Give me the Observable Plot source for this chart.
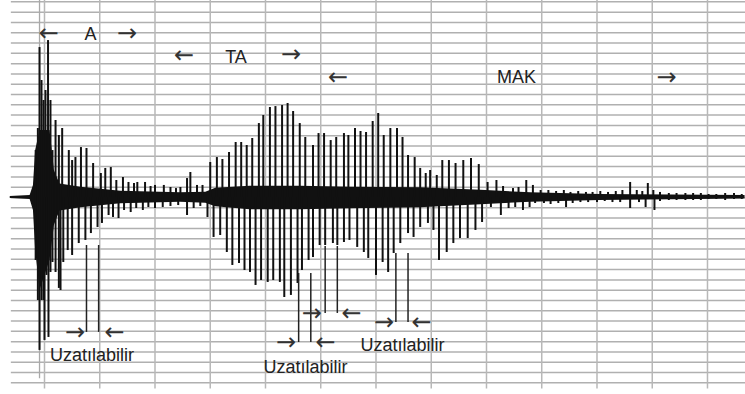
<!DOCTYPE html>
<html><head><meta charset="utf-8">
<script src="https://cdn.jsdelivr.net/npm/d3@7"></script>
<script src="https://cdn.jsdelivr.net/npm/@observablehq/plot@0.6"></script>
<style>body{margin:0;background:#fff} #chart svg{display:block;background:#fff}</style>
</head><body><div id="chart"></div>
<script>
// time in ms (grid every 50 ms), amplitude in grid cells
const gridT = [0,50,100,150,200,250,300,350,400,450,500,550,600];
const gridV = [-18,-17,-16,-15,-14,-13,-12,-11,-10,-9,-8,-7,-6,-5,-4,-3,-2,-1,0,1,2,3,4,5,6,7,8,9,10,11,12,13,14,15,16,17,18,19];

// upper peaks of the waveform
const upT = [-8,-6,-4.5,-2.7,-0.9,0.9,3.2,5.4,7.2,
 10,13,16,22,25,28,33,38,44,51,55,60,65,71,76,81,84,91,96,100,108,114,119,123,129,132,138,143,
 150,156,161,167,173,178,183,188,194,198,204,209,215,220,225,231,236,243,248,253,259,264,271,275,281,286,291,297,302,307,313,319,324,329,335,340,345,349,355,360,366,372,379,386,393,401,409,415,424,429,436,442,
 449,456,463,470,476,483,490,496,503,510,517,523,530,536,541,546,551,557,565,572,580,587,594,601,608,616,624,631];
const upV = [4.56,6.7,14.56,11.36,9.42,10.39,15.24,9.42,4.56,
 7.48,6.02,6.7,4.56,3.59,3.88,4.85,4.76,3.3,2.33,2.82,2.91,1.65,1.94,1.46,1.36,1.46,1.46,1.07,1.17,1.17,0.97,0.87,0.97,1.84,2.43,1.17,1.17,
 3.4,3.88,3.69,4.37,5.34,5.34,5.05,5.73,7.18,7.96,8.74,8.83,8.93,9.13,8.35,7.18,5.83,5.05,6.21,6.21,5.53,5.83,6.21,6.02,6.7,6.41,6.31,7.38,8.16,6.02,6.7,6.7,5.83,4.08,3.88,2.82,2.33,2.62,2.14,3.59,3.59,3.3,3.59,3.79,3.2,1.46,1.65,1.07,0.87,0.97,1.65,1.17,
 0.68,0.68,0.58,0.68,0.49,0.58,0.49,0.49,0.58,0.49,0.58,0.68,1.46,0.68,0.58,1.36,0.68,0.49,0.39,0.39,0.39,0.39,0.39,0.29,0.29,0.39,0.39,0.29];

// lower peaks of the waveform
const dnT = [-8,-6,-4.5,-2.7,-0.9,0,1.8,3.6,5.4,7.2,
 10,13,14.5,17,21,25,31,37,42,48,52,58,62,67,72,78,83,89,94,100,107,114,121,129,135,141,
 147.5,153,159,165,170,176,181,186,191,196,202,207,213,217,223,229,233,239,243,249,254,261,265,271,276,283,289,293,300,306,311,316,322,329,334,340,347,352,357,364,370,376,383,390,396,404,413,420,426,433,439,
 444,452,458,465,472,478,485,492,500,507,514,521,530,538,544,552,557,565,572,580,587,594,601,608,616,624,631];
const dnV = [-6.12,-10,-14.85,-10,-10,-13.88,-7.57,-13.59,-7.28,-6.31,
 -7.28,-8.83,-9.03,-6.31,-5.15,-5.63,-4.47,-4.17,-3.5,-2.91,-2.52,-1.75,-1.94,-2.04,-1.26,-1.46,-1.07,-1.26,-0.97,-1.07,-0.97,-0.87,-0.78,-1.75,-1.07,-0.87,
 -1.94,-3.88,-3.69,-5.34,-6.6,-6.41,-7.09,-7.28,-8.54,-8.06,-8.25,-8.06,-8.25,-9.71,-9.51,-8.35,-7.09,-6.12,-5.83,-4.66,-4.66,-4.47,-4.66,-4.37,-4.17,-4.85,-5.34,-5.92,-7.57,-6.31,-7.28,-5.44,-4.47,-3.5,-3.88,-2.91,-2.52,-3.2,-6.12,-5.34,-4.47,-3.98,-3.98,-3.2,-2.43,-0.97,-1.75,-1.07,-0.97,-1.26,-0.97,
 -0.58,-0.58,-0.68,-0.58,-0.97,-0.58,-0.49,-0.49,-0.49,-0.39,-0.49,-0.49,-1.07,-0.49,-0.97,-1.26,-0.39,-0.29,-0.29,-0.29,-0.29,-0.29,-0.19,-0.19,-0.29,-0.19,-0.19];

// dense core of the waveform around the zero line
const coreT  = [-31,-13,-10,-8,-4,5,9,14,33,69,123,146,155,186,232,277,340,395,440,503,634];
const coreHi = [0.1,0.19,1.17,4.56,6.5,6.5,2.6,1.3,1.0,0.6,0.45,0.5,0.9,1.1,1.1,1.0,0.95,0.7,0.45,0.3,0.2];
const coreLo = [-0.1,-0.19,-1.26,-5.15,-9,-6.1,-2.7,-1.3,-1.0,-0.6,-0.45,-0.55,-0.9,-1.2,-1.2,-1.1,-1.0,-0.7,-0.45,-0.3,-0.15];

// "Uzatılabilir" bracket lines
const pairT   = [38,49,230,241,254,265,318,329];
const pairTop = [-4.66,-4.66,-7.38,-7.38,-4.76,-4.76,-5.44,-5.44];
const pairBot = [-13.1,-13.1,-14.08,-14.08,-11.26,-11.26,-12.14,-12.14];

// arrow glyphs
const arrowText = ["←","→","←","→","←","→", "→","←","→","←","→","←","→","←"];
const arrowT = [4,74.7,126.2,223.1,265.6,562.9, 27.6,63.4,218.6,254.3,242,277.8,307.2,341.2];
const arrowV = [15.9,15.9,13.8,13.9,11.65,11.65, -13.1,-13.1,-14.08,-14.08,-11.26,-11.26,-12.1,-12.1];

// texts
const labelText = ["A","TA","MAK","Uzatılabilir","Uzatılabilir","Uzatılabilir"];
const labelT = [41.6,173.3,427.2,43,236.2,324];
const labelV = [15.9,13.6,11.65,-15.34,-16.5,-14.35];

const up = upT.map((t,i)=>({t, v: upV[i]}));
const dn = dnT.map((t,i)=>({t, v: dnV[i]}));
const core = coreT.map((t,i)=>({t, hi: coreHi[i], lo: coreLo[i]}));
const pairs = pairT.map((t,i)=>({t, top: pairTop[i], bot: pairBot[i]}));
const arrows = arrowText.map((s,i)=>({s, t: arrowT[i], v: arrowV[i]}));
const labels = labelText.map((s,i)=>({s, t: labelT[i], v: labelV[i]}));

const font = "'Liberation Sans', Arial, sans-serif";
const chart = Plot.plot({
  width: 745, height: 394,
  marginTop: 0, marginBottom: 0, marginLeft: 0, marginRight: 0,
  x: {domain: [-39.82, 634.4], axis: null},
  y: {domain: [-19.13, 19.13], axis: null},
  style: {background: "#fff"},
  marks: [
    Plot.ruleY(gridV, {y: d => d, x1: -30, x2: 634.4, stroke: "#b0b0b0", strokeWidth: 1.5}),
    Plot.ruleX(gridT, {x: d => d, y1: -18.6, y2: 19.13, stroke: "#b8b8b8", strokeWidth: 1.5}),
    Plot.ruleX([-4.5], {x: d => d, y1: -17.6, y2: 19.13, stroke: "#a8a8a8", strokeWidth: 1.3}),
    Plot.areaY(core, {x: "t", y1: "lo", y2: "hi", fill: "#111", curve: "linear"}),
    Plot.ruleX(up, {x: "t", y1: 0, y2: "v", stroke: "#111", strokeWidth: 2}),
    Plot.ruleX(dn, {x: "t", y1: 0, y2: "v", stroke: "#111", strokeWidth: 2}),
    Plot.ruleX(pairs, {x: "t", y1: "bot", y2: "top", stroke: "#222", strokeWidth: 1.5}),
    Plot.text(arrows, {x: "t", y: "v", text: "s", fill: "#333", fontSize: 24, fontFamily: "'DejaVu Sans', sans-serif"}),
    Plot.text(labels, {x: "t", y: "v", text: "s", fill: "#222", fontSize: 18, fontFamily: font})
  ]
});
document.getElementById("chart").appendChild(chart);
</script>
</body></html>
